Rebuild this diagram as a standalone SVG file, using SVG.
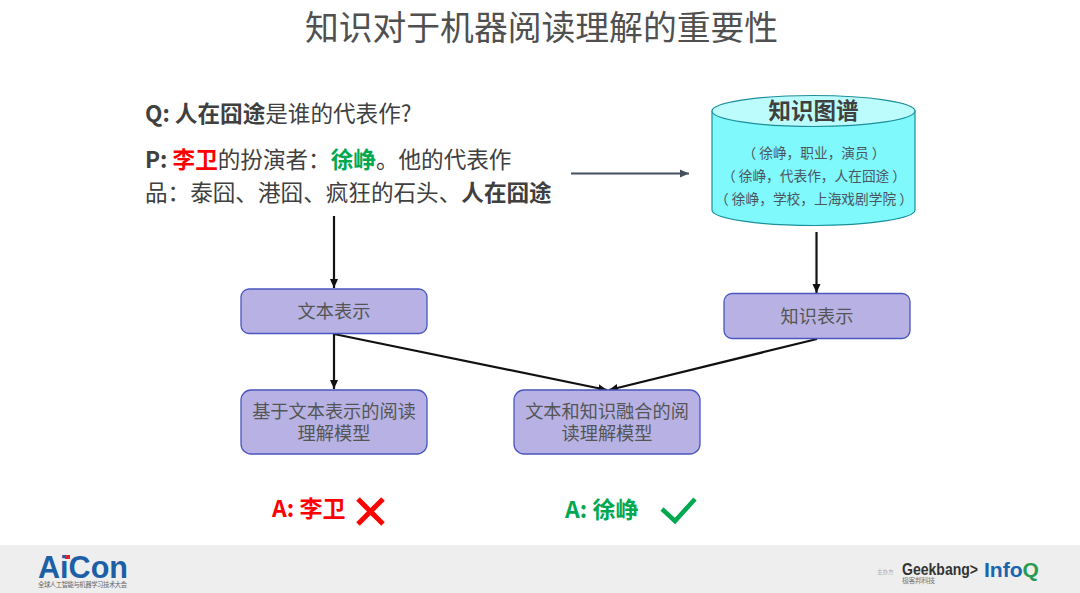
<svg xmlns="http://www.w3.org/2000/svg" width="1080" height="593" viewBox="0 0 1080 593">
<defs>
<marker id="ah" markerUnits="userSpaceOnUse" markerWidth="10" markerHeight="10" refX="9" refY="4.5" orient="auto"><path d="M0,0.5 L9,4.5 L0,8.5 Z" fill="#111"/></marker>
<marker id="ag" markerUnits="userSpaceOnUse" markerWidth="10" markerHeight="10" refX="9" refY="4.5" orient="auto"><path d="M0,0.5 L9,4.5 L0,8.5 Z" fill="#44505e"/></marker>
</defs>
<style>
text{font-family:"Noto Sans CJK SC","Noto Sans",sans-serif;fill:#404040}
.b{font-weight:700}
.m{text-anchor:middle}
.box{fill:#b7b2e3;stroke:#4a55c0;stroke-width:1.3}
.bt{font-size:18.2px;fill:#555;text-anchor:middle}
.kg{font-size:13.7px;fill:#4c5560;text-anchor:middle}
.body{font-size:22.6px}
.c{stroke:#111;stroke-width:2.2;fill:none;marker-end:url(#ah)}
</style>
<rect width="1080" height="593" fill="#fff"/>
<rect id="footer" x="0" y="545" width="1080" height="48" fill="#eeeeee"/>
<text id="title" x="541.500" y="39.500" class="m" font-size="33.800" style="fill:#505050">知识对于机器阅读理解的重要性</text>
<g id="question"><text x="145" y="122" class="body"><tspan class="b">Q: 人在囧途</tspan>是谁的代表作?</text></g>
<g id="passage">
<text x="145" y="168" class="body"><tspan class="b">P: </tspan><tspan class="b" style="fill:#ff0000">李卫</tspan>的扮演者：<tspan class="b" style="fill:#00a850">徐峥</tspan><tspan>。他的代表作</tspan></text>
<text x="145" y="201" class="body">品：泰囧、港囧、疯狂的石头、<tspan class="b">人在囧途</tspan></text>
</g>
<g id="kg">
<path d="M712,111 V210 A101.500,15.500 0 0 0 915,210 V111 Z" fill="#7ff9fb" stroke="#1c8f9c" stroke-width="1.200"/>
<ellipse cx="813.500" cy="111" rx="101.500" ry="15.500" fill="#bdfcfd" stroke="#1c8f9c" stroke-width="1.200"/>
<text x="813.500" y="119" class="m b" font-size="22.500">知识图谱</text>
<text x="814" y="158" class="kg">（ 徐峥，职业，演员 ）</text>
<text x="814" y="181" class="kg">（ 徐峥，代表作，人在囧途 ）</text>
<text x="814" y="204" class="kg">（ 徐峥，学校，上海戏剧学院 ）</text>
</g>
<g id="connectors">
<path d="M571,173.500 H689" stroke="#44505e" stroke-width="2.200" fill="none" marker-end="url(#ag)"/>
<path class="c" d="M334,216 V288"/>
<path class="c" d="M816.500,232 V293"/>
<path class="c" d="M334,334 V389"/>
<path class="c" d="M334,334 L607,390"/>
<path class="c" d="M817,339 L609,390"/>
</g>
<g id="n1"><rect class="box" x="241" y="289" width="186" height="44.500" rx="8"/><text class="bt" x="334" y="318">文本表示</text></g>
<g id="n2"><rect class="box" x="724" y="293.500" width="186" height="45" rx="8"/><text class="bt" x="817" y="322.500">知识表示</text></g>
<g id="n3"><rect class="box" x="241" y="390" width="186" height="64" rx="10"/><text class="bt"><tspan x="334" y="418">基于文本表示的阅读</tspan><tspan x="334" y="440">理解模型</tspan></text></g>
<g id="n4"><rect class="box" x="514" y="390" width="186" height="64" rx="10"/><text class="bt"><tspan x="607" y="418">文本和知识融合的阅</tspan><tspan x="607" y="440">读理解模型</tspan></text></g>
<g id="a1"><text x="272" y="517" class="b" font-size="23" style="fill:#ff0000">A: 李卫</text>
<path d="M358,499 L383,524 M383,499 L358,524" stroke="#ff0000" stroke-width="5" fill="none"/></g>
<g id="a2"><text x="565" y="518" class="b" font-size="23" style="fill:#00a850">A: 徐峥</text>
<path d="M662,509 L675,521 L695,499" stroke="#00a850" stroke-width="4.500" fill="none"/></g>
<g id="logo-aicon">
<text><tspan x="38" y="578" font-size="31" class="b" textLength="90" lengthAdjust="spacingAndGlyphs" style="fill:#1c5fa6;font-family:'Liberation Sans',sans-serif">AiCon</tspan><tspan x="38" y="587" font-size="6.300" textLength="89" style="fill:#666">全球人工智能与机器学习技术大会</tspan></text>
<rect x="65" y="555" width="5" height="4" fill="#e02030"/>
</g>
<g id="logo-geek">
<text x="877" y="574" font-size="5.500" style="fill:#aaa">主办方</text>
<text><tspan x="902" y="575" font-size="16" class="b" textLength="76" lengthAdjust="spacingAndGlyphs" style="fill:#333;font-family:'Liberation Sans',sans-serif">Geekbang&gt;</tspan><tspan x="902" y="582.500" font-size="7" textLength="33" style="fill:#777">极客邦科技</tspan></text>
<text x="984" y="577" font-size="21" class="b" textLength="55" lengthAdjust="spacingAndGlyphs" style="fill:#1766ae;font-family:'Liberation Sans',sans-serif">Info<tspan style="fill:#2a9a50">Q</tspan></text>
</g>
</svg>
